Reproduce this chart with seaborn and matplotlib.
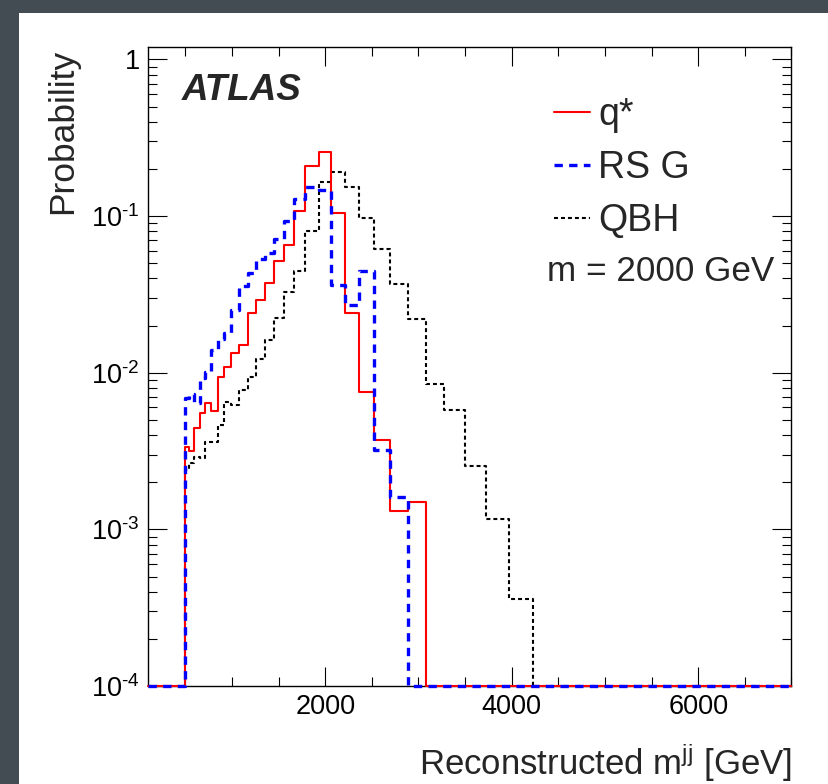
import numpy as np
import pandas as pd
import matplotlib
matplotlib.use("Agg")
import matplotlib.pyplot as plt
from matplotlib.patches import Rectangle
from matplotlib.ticker import FixedLocator, MultipleLocator, LogLocator, FuncFormatter, NullFormatter
import seaborn as sns

# Histogram binning of the reconstructed dijet mass [GeV]
mjj_edges = [496, 542, 596, 657, 714, 775, 846, 911, 990, 1072, 1169, 1259,
             1359, 1455, 1557, 1670, 1788, 1931, 2064, 2207, 2361, 2519, 2698,
             2887, 3077, 3274, 3496, 3722, 3972, 4230]

# Per-bin probabilities for a 2000 GeV signal
q_star = [0.00337, 0.00318, 0.00446, 0.00556, 0.00638, 0.00572, 0.00935,
          0.0108, 0.0133, 0.0151, 0.0242, 0.0291, 0.0372, 0.0519, 0.0653,
          0.1076, 0.208, 0.257, 0.104, 0.0242, 0.00757, 0.00372, 0.00131,
          0.00149, 0.0, 0.0, 0.0, 0.0, 0.0]
rs_graviton = [0.0069, 0.0073, 0.00638, 0.0092, 0.0101, 0.0140, 0.0163,
               0.0180, 0.0251, 0.0357, 0.0435, 0.0532, 0.0578, 0.0713, 0.0929,
               0.128, 0.154, 0.147, 0.0365, 0.0269, 0.0446, 0.00321, 0.0016,
               0.0, 0.0, 0.0, 0.0, 0.0, 0.0]
qbh = [0.00239, 0.00264, 0.00291, 0.00286, 0.00363, 0.00363, 0.00464,
       0.00653, 0.00622, 0.00776, 0.00936, 0.0122, 0.0162, 0.0222, 0.0326,
       0.0446, 0.0802, 0.164, 0.190, 0.154, 0.0967, 0.0618, 0.0368, 0.0220,
       0.00847, 0.00578, 0.00252, 0.00117, 0.00036]

series_labels = ["q*", "RS G", "QBH"]
x_range = (100, 7000)
y_range = (1e-4, 1.2)

sns.set_theme(style="ticks")
plt.rcParams["font.family"] = ["Liberation Sans", "DejaVu Sans"]
plt.rcParams["mathtext.fontset"] = "custom"
plt.rcParams["mathtext.rm"] = "Liberation Sans"
plt.rcParams["mathtext.it"] = "Liberation Sans:italic"
plt.rcParams["mathtext.bf"] = "Liberation Sans:bold"
plt.rcParams["mathtext.default"] = "regular"


def step_frame(values):
    """Step outline over the full axis range; empty bins sit on the axis floor."""
    vals = np.asarray(values, dtype=float)
    vals = np.where(vals > 0, vals, y_range[0])
    x = np.concatenate([[x_range[0]], mjj_edges, [x_range[1]]])
    y = np.concatenate([[y_range[0]], vals, [y_range[0], y_range[0]]])
    return pd.DataFrame({"mjj": x, "prob": y})


fig = plt.figure(figsize=(8.29, 7.84), dpi=100)
fig.patch.set_facecolor("#434c53")
fig.patches.append(Rectangle((19 / 829, 0), 1, 1 - 12.7 / 784,
                             transform=fig.transFigure, facecolor="white",
                             edgecolor="none", zorder=-10))
ax = fig.add_axes([148 / 829, 98 / 784, 643.5 / 829, 639 / 784])
ax.set_facecolor("white")
ax.set_yscale("log")

styles = [
    dict(values=qbh, label="QBH", color="black", lw=1.5,
         ls=(0, (1.9, 1.45)), z=2),
    dict(values=q_star, label="q*", color="#ff0000", lw=1.5,
         ls="-", z=3),
    dict(values=rs_graviton, label="RS G", color="#0000ff", lw=2.4,
         ls=(0, (2.5, 1.9)), z=4),
]
handles = {}
for st in styles:
    df = step_frame(st["values"])
    sns.lineplot(data=df, x="mjj", y="prob", ax=ax, drawstyle="steps-post",
                 color=st["color"], linewidth=st["lw"], linestyle=st["ls"],
                 sort=False, estimator=None, label=st["label"],
                 clip_on=False, zorder=st["z"])
    handles[st["label"]] = ax.get_lines()[-1]

ax.set_xlim(*x_range)
ax.set_ylim(*y_range)

ax.xaxis.set_major_locator(FixedLocator([2000, 4000, 6000]))
ax.xaxis.set_minor_locator(MultipleLocator(500))
ax.yaxis.set_major_locator(LogLocator(base=10, numticks=10))
ax.yaxis.set_minor_locator(LogLocator(base=10, subs=np.arange(2, 10), numticks=20))
ax.yaxis.set_minor_formatter(NullFormatter())


def decade_label(v, pos):
    e = int(round(np.log10(v)))
    return "1" if e == 0 else r"$10^{\text{%d}}$" % e


ax.yaxis.set_major_formatter(FuncFormatter(decade_label))

ax.tick_params(axis="both", which="both", direction="in", top=True, right=True,
               colors="black")
ax.tick_params(axis="both", which="major", length=13.5, width=0.8,
               labelsize=19.5, pad=6)
ax.tick_params(axis="both", which="minor", length=6.5, width=0.8)
for sp in ax.spines.values():
    sp.set_color("black")
    sp.set_linewidth(1.0)

ax.set_xlabel(r"Reconstructed m$^{jj}$ [GeV]", fontsize=25)
ax.xaxis.set_label_coords(1.0, -0.140)
ax.xaxis.label.set_ha("right")
ax.xaxis.label.set_va("baseline")

ax.set_ylabel("Probability", fontsize=25.5)
ax.yaxis.set_label_coords(-0.118, 0.998)
ax.yaxis.label.set_ha("right")
ax.yaxis.label.set_va("baseline")

ax.text(0.053, 0.917, "ATLAS", transform=ax.transAxes, fontsize=26.5,
        fontweight="bold", fontstyle="italic", va="baseline")

leg = ax.legend([handles[k] for k in series_labels], series_labels,
                loc="upper left", bbox_to_anchor=(0.631, 0.921),
                frameon=False, fontsize=27, handlelength=0.97,
                handletextpad=0.2, borderpad=0.0, borderaxespad=0.0,
                labelspacing=0.45)
ax.text(0.620, 0.634, "m = 2000 GeV", transform=ax.transAxes, fontsize=25.3,
        va="baseline")

fig.savefig("out.png", dpi=100, facecolor=fig.get_facecolor())
